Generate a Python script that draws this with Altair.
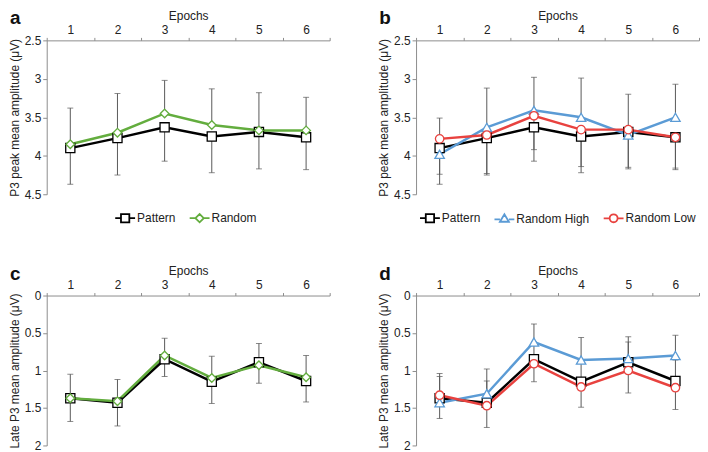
import altair as alt
import pandas as pd

epochs = [1, 2, 3, 4, 5, 6]

# Panel a: P3 peak, Pattern vs Random
a_series = ["Pattern", "Random"]
a_pattern = [3.90, 3.77, 3.63, 3.75, 3.69, 3.76]
a_pattern_err = [0.47, 0.48, 0.44, 0.47, 0.48, 0.42]
a_random = [3.85, 3.70, 3.45, 3.60, 3.67, 3.67]
a_random_err = [-0.47, -0.51, -0.43, -0.47, -0.49, -0.43]

# Panel b: P3 peak, Pattern vs Random High vs Random Low
b_series = ["Pattern", "Random High", "Random Low"]
b_pattern = [3.90, 3.77, 3.63, 3.75, 3.69, 3.76]
b_pattern_err = [0.47, 0.48, 0.44, 0.47, 0.48, 0.42]
b_high = [3.98, 3.63, 3.41, 3.50, 3.73, 3.50]
b_high_err = [-0.47, -0.51, -0.43, -0.51, -0.53, -0.43]
b_low = [3.78, 3.73, 3.48, 3.66, 3.66, 3.76]
b_low_err = [0.46, 0.50, 0.44, 0.48, 0.49, 0.40]

# Panel c: Late P3, Pattern vs Random
c_pattern = [1.37, 1.43, 0.85, 1.15, 0.89, 1.14]
c_pattern_err = [0.31, 0.31, 0.23, 0.29, 0.28, 0.28]
c_random = [1.37, 1.41, 0.80, 1.10, 0.93, 1.09]
c_random_err = [-0.32, -0.29, -0.23, -0.29, -0.29, -0.29]

# Panel d: Late P3, Pattern vs Random High vs Random Low
d_pattern = [1.37, 1.43, 0.85, 1.15, 0.89, 1.14]
d_pattern_err = [-0.29, -0.29, -0.23, -0.29, -0.27, -0.28]
d_high = [1.43, 1.31, 0.62, 0.86, 0.84, 0.80]
d_high_err = [-0.39, -0.33, -0.24, -0.30, -0.29, -0.27]
d_low = [1.33, 1.47, 0.91, 1.22, 1.00, 1.23]
d_low_err = [0.31, 0.29, 0.24, 0.27, 0.30, 0.29]

top_ticks = [2.5, 3, 3.5, 4, 4.5]
bottom_ticks = [0, 0.5, 1, 1.5, 2]

COLORS = {"Pattern": "#000000", "Random": "#63ad3e",
          "Random High": "#5b9bd5", "Random Low": "#e8423f"}
SHAPES = {"Pattern": "square", "Random": "diamond",
          "Random High": "triangle-up", "Random Low": "circle"}
SIZES = {"Pattern": 85, "Random": 75, "Random High": 90, "Random Low": 72}
LEGEND_PATHS = {
    "Pattern": "M-1,0H-0.42M0.42,0H1M-0.42,-0.42H0.42V0.42H-0.42Z",
    "Random": "M-1,0H-0.42M0.42,0H1M-0.42,0L0,-0.42L0.42,0L0,0.42Z",
    "Random High": "M-1,0.05H-0.45M0.45,0.05H1M-0.45,0.3L0,-0.45L0.45,0.3Z",
    "Random Low": "M-1,0H-0.4M0.4,0H1M-0.4,0A0.4,0.4,0,1,0,0.4,0A0.4,0.4,0,1,0,-0.4,0Z",
}
GREY = "#595959"
AXIS_GREY = "#8c8c8c"


def panel(letter, names, values, errs, ydom, yticks, ytitle, width, height, legend_x):
    rows = []
    for name, vals, es in zip(names, values, errs):
        for e, v, er in zip(epochs, vals, es):
            rows.append({"epoch": e, "series": name, "value": v, "end": round(v + er, 3)})
    df = pd.DataFrame(rows)
    base = alt.Chart(df)

    x = alt.X("epoch:O",
              scale=alt.Scale(type="band", paddingInner=0, paddingOuter=0),
              axis=alt.Axis(orient="top", title="Epochs", labelAngle=0, tickBand="extent",
                            tickSize=3, labelPadding=1, titlePadding=1,
                            domainColor=AXIS_GREY, tickColor=AXIS_GREY))
    yscale = alt.Scale(domain=ydom, reverse=True, nice=False, zero=False)
    yaxis = alt.Axis(values=yticks, format="~g", title=ytitle, tickSize=4,
                     labelPadding=2, titlePadding=3,
                     domainColor=AXIS_GREY, tickColor=AXIS_GREY)
    y = alt.Y("value:Q", scale=yscale, axis=yaxis)
    y_end = alt.Y("end:Q", scale=yscale, axis=yaxis)

    color_scale = alt.Scale(domain=names, range=[COLORS[n] for n in names])

    layers = []
    if legend_x is not None:
        leg = alt.Legend(title=None, orient="none", legendX=legend_x, legendY=height + 13,
                         direction="horizontal",
                         symbolSize=400, symbolStrokeWidth=1.8, labelFontSize=12,
                         labelOffset=1, columnPadding=10, labelColor="#222")
        layers.append(
            base.transform_filter("false")
            .mark_point(opacity=1)
            .encode(x=x, y=y,
                    stroke=alt.Stroke("series:N", scale=color_scale, legend=leg),
                    shape=alt.Shape("series:N",
                                    scale=alt.Scale(domain=names,
                                                    range=[LEGEND_PATHS[n] for n in names]),
                                    legend=leg),
                    fill=alt.value("white"),
                    size=alt.value(400),
                    strokeWidth=alt.value(1.8))
        )

    err = base.mark_rule(color=GREY, strokeWidth=1).encode(x=x, y=y, y2="end:Q")
    caps = base.mark_tick(color=GREY, size=6, thickness=1).encode(x=x, y=y_end)
    lines = base.mark_line(strokeWidth=2.5).encode(
        x=x, y=y, stroke=alt.Stroke("series:N", scale=color_scale, legend=None))
    layers += [err, caps, lines]

    for n in names:
        layers.append(
            base.transform_filter(alt.datum.series == n)
            .mark_point(shape=SHAPES[n], filled=True, fill="white", stroke=COLORS[n],
                        strokeWidth=1.3, size=SIZES[n], opacity=1)
            .encode(x=x, y=y)
        )

    label = alt.Chart(pd.DataFrame({"t": [letter]})).mark_text(
        fontSize=19, fontWeight="bold", align="left", baseline="alphabetic", color="#111"
    ).encode(x=alt.value(-37), y=alt.value(-16), text="t:N")
    layers.append(label)

    return alt.layer(*layers).properties(width=width, height=height)


pa = panel("a", a_series, [a_pattern, a_random], [a_pattern_err, a_random_err],
           [2.5, 4.5], top_ticks, "P3 peak mean amplitude (μV)", 285, 155, 68)
pb = panel("b", b_series, [b_pattern, b_high, b_low], [b_pattern_err, b_high_err, b_low_err],
           [2.5, 4.5], top_ticks, "P3 peak mean amplitude (μV)", 285, 155, 3)
pc = panel("c", a_series, [c_pattern, c_random], [c_pattern_err, c_random_err],
           [0, 2], bottom_ticks, "Late P3 mean amplitude (μV)", 285, 151, None)
pd_ = panel("d", b_series, [d_pattern, d_high, d_low], [d_pattern_err, d_high_err, d_low_err],
            [0, 2], bottom_ticks, "Late P3 mean amplitude (μV)", 285, 151, None)

row1 = alt.hconcat(pa, pb, spacing=47).resolve_scale(stroke="independent", shape="independent")
row2 = alt.hconcat(pc, pd_, spacing=47).resolve_scale(stroke="independent", shape="independent")

chart = alt.vconcat(row1, row2, spacing=39).resolve_scale(
    stroke="independent", shape="independent"
).properties(
    padding={"left": 0, "top": 0, "right": 0, "bottom": 0}
).configure(
    font="Liberation Sans"
).configure_view(
    strokeWidth=0
).configure_axis(
    labelFontSize=12, titleFontSize=12, labelColor="#222", titleColor="#222",
    titleFontWeight="normal", grid=False
)

chart.save("out.html", embed_options={"renderer": "svg", "actions": False})
